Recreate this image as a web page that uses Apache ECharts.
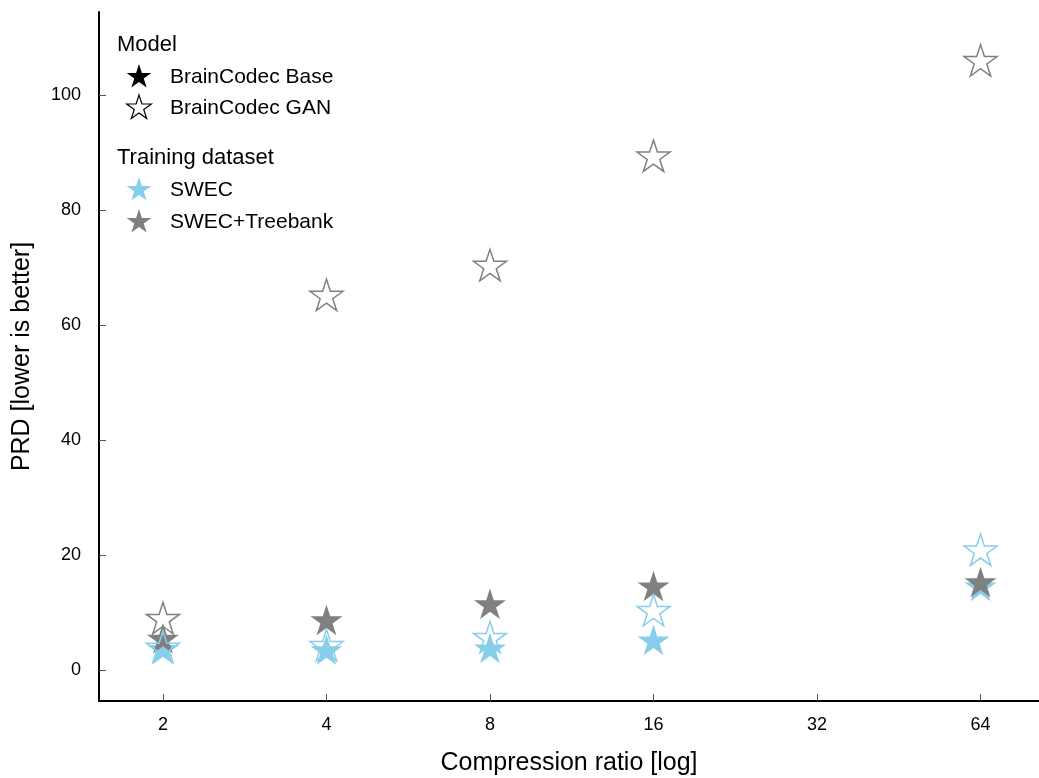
<!DOCTYPE html>
<html>
<head>
<meta charset="utf-8">
<script src="https://cdn.jsdelivr.net/npm/echarts@6/dist/echarts.min.js"></script>
<style>
html,body{margin:0;padding:0;background:#fff;}
#chart{width:1039px;height:778px;}
</style>
</head>
<body>
<div id="chart"></div>
<script>
// Data
const ratios = [2, 4, 8, 16, 64];
const xTicks = [2, 4, 8, 16, 32, 64];
const yTicks = [0, 20, 40, 60, 80, 100];
const baseSwec = [3.7, 3.5, 3.8, 5.2, 14.6];
const baseSwecTreebank = [5.5, 8.7, 11.5, 14.6, 15.3];
const ganSwec = [4.0, 4.3, 5.7, 10.4, 20.9];
const ganSwecTreebank = [9.0, 65.2, 70.4, 89.4, 106.0];

const BLUE = '#87CEEB';
const GRAY = '#808080';
const STAR = 'path://M0,-1 L0.2245,-0.309 L0.951,-0.309 L0.363,0.118 L0.588,0.809 L0,0.382 L-0.588,0.809 L-0.363,0.118 L-0.951,-0.309 L-0.2245,-0.309 Z';
const FONT = '"Liberation Sans", Arial, sans-serif';

function pairs(vals) { return ratios.map((r, i) => [r, vals[i]]); }

function starSeries(name, vals, color, filled) {
  return {
    name: name,
    type: 'scatter',
    data: pairs(vals),
    symbol: STAR,
    symbolSize: filled ? 32 : 33,
    symbolKeepAspect: true,
    itemStyle: filled
      ? { color: color, borderWidth: 0, opacity: 1 }
      : { color: 'none', borderColor: color, borderWidth: 1.5, opacity: 1 },
    emphasis: { disabled: true },
    z: 2
  };
}

function starPts(cx, cy, r) {
  const pts = [];
  for (let i = 0; i < 10; i++) {
    const rr = i % 2 === 0 ? r : r * 0.382;
    const a = -Math.PI / 2 + i * Math.PI / 5;
    pts.push([cx + rr * Math.cos(a), cy + rr * Math.sin(a)]);
  }
  return pts;
}

const legendItems = [
  { y: 76, fill: '#000', stroke: null, label: 'BrainCodec Base' },
  { y: 107, fill: null, stroke: '#000', label: 'BrainCodec GAN' },
  { y: 189, fill: BLUE, stroke: null, label: 'SWEC' },
  { y: 221, fill: GRAY, stroke: null, label: 'SWEC+Treebank' }
];

const graphics = [
  { type: 'text', left: 117, top: 34, style: { text: 'Model', font: '22px ' + FONT, fill: '#000' } },
  { type: 'text', left: 117, top: 147, style: { text: 'Training dataset', font: '22px ' + FONT, fill: '#000' } }
];
legendItems.forEach(it => {
  graphics.push({
    type: 'polygon',
    shape: { points: starPts(139, it.y + 1, 13) },
    style: it.fill ? { fill: it.fill } : { fill: 'none', stroke: it.stroke, lineWidth: 1.2 }
  });
  graphics.push({
    type: 'text', left: 170, top: it.y - 9,
    style: { text: it.label, font: '21px ' + FONT, fill: '#000' }
  });
});

const chart = echarts.init(document.getElementById('chart'), null, { renderer: 'canvas' });
chart.setOption({
  animation: false,
  backgroundColor: '#fff',
  textStyle: { fontFamily: FONT },
  grid: { left: 99, right: 0, top: 12, bottom: 77, containLabel: false, outerBoundsMode: 'none' },
  xAxis: {
    type: 'log',
    logBase: 2,
    min: 1.525,
    max: 82,
    name: 'Compression ratio [log]',
    nameLocation: 'middle',
    nameGap: 50,
    nameTextStyle: { fontSize: 25, color: '#000', fontFamily: FONT },
    axisLine: { show: true, onZero: false, lineStyle: { color: '#000', width: 2 } },
    axisTick: { show: true, inside: true, length: 7, customValues: xTicks, lineStyle: { color: '#555', width: 1 } },
    axisLabel: { customValues: xTicks, fontSize: 18, color: '#000', margin: 15, fontFamily: FONT },
    splitLine: { show: false }
  },
  yAxis: {
    type: 'value',
    min: -5.4,
    max: 114.4,
    name: 'PRD [lower is better]',
    nameLocation: 'middle',
    nameGap: 64,
    nameTextStyle: { fontSize: 25, color: '#000', fontFamily: FONT },
    axisLine: { show: true, onZero: false, lineStyle: { color: '#000', width: 2 } },
    axisTick: { show: true, inside: true, length: 7, customValues: yTicks, lineStyle: { color: '#555', width: 1 } },
    axisLabel: { customValues: yTicks, fontSize: 18, color: '#000', margin: 18, fontFamily: FONT },
    splitLine: { show: false }
  },
  graphic: graphics,
  series: [
    starSeries('BrainCodec Base / SWEC', baseSwec, BLUE, true),
    starSeries('BrainCodec Base / SWEC+Treebank', baseSwecTreebank, GRAY, true),
    starSeries('BrainCodec GAN / SWEC', ganSwec, BLUE, false),
    starSeries('BrainCodec GAN / SWEC+Treebank', ganSwecTreebank, GRAY, false)
  ]
});
</script>
</body>
</html>
